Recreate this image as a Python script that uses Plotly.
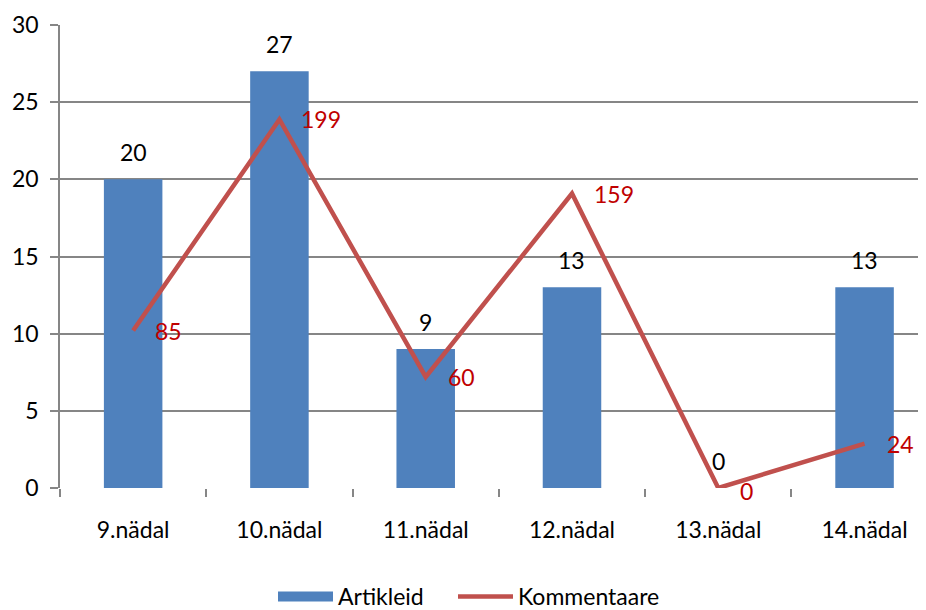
import plotly.graph_objects as go

categories = ["9.nädal", "10.nädal", "11.nädal", "12.nädal", "13.nädal", "14.nädal"]
artikleid = [20, 27, 9, 13, 0, 13]
kommentaare = [85, 199, 60, 159, 0, 24]

FONT = "Lato"
FS = 23
BLUE = "#4F81BD"
RED = "#C0504D"
LABEL_RED = "#C00000"
GRID = "#868686"

fig = go.Figure()
fig.add_trace(go.Bar(
    x=categories, y=artikleid, name="Artikleid", showlegend=False,
    marker=dict(color=BLUE, line=dict(width=0)), width=0.4,
))
# legend swatch for the bar series (wide rectangle like the original)
fig.add_trace(go.Scatter(
    x=[None], y=[None], name="Artikleid", mode="lines",
    line=dict(color=BLUE, width=15), legend="legend",
))
fig.add_trace(go.Scatter(
    x=categories, y=kommentaare, name="Kommentaare", yaxis="y2",
    mode="lines", line=dict(color=RED, width=4.5), legend="legend2",
))

annotations = []
for c, v in zip(categories, artikleid):
    annotations.append(dict(x=c, y=v, xref="x", yref="y", text=str(v),
                            showarrow=False, yanchor="bottom", yshift=11,
                            font=dict(family=FONT, size=FS, color="black")))
for c, v in zip(categories, kommentaare):
    annotations.append(dict(x=c, y=v, xref="x", yref="y2", text=str(v),
                            showarrow=False, xanchor="left", xshift=20,
                            yshift=-3 if v == 0 else 0,
                            font=dict(family=FONT, size=FS, color=LABEL_RED)))

legend_common = dict(orientation="h", xref="container", yref="container",
                     y=0.0, xanchor="left", yanchor="bottom",
                     font=dict(family=FONT, size=FS), itemwidth=55,
                     bgcolor="rgba(0,0,0,0)")

fig.update_layout(
    width=926, height=610,
    margin=dict(l=52, r=8, t=17, b=130),
    paper_bgcolor="white", plot_bgcolor="white",
    font=dict(family=FONT, size=FS, color="black"),
    xaxis=dict(range=[-0.5, 5.42], showgrid=False, ticks="outside",
               tickson="boundaries", ticklen=8, tickcolor=GRID, tickwidth=1.5,
               showline=False, zeroline=False, ticklabelstandoff=26,
               automargin=False, tickfont=dict(family=FONT, size=FS)),
    yaxis=dict(range=[0, 30], dtick=5, showgrid=True, gridcolor=GRID, gridwidth=1.5,
               ticks="outside", ticklen=8, tickcolor=GRID, tickwidth=1.5,
               showline=True, linecolor=GRID, linewidth=1.5, zeroline=False,
               ticklabelstandoff=7, automargin=False,
               tickfont=dict(family=FONT, size=FS)),
    yaxis2=dict(range=[0, 250], overlaying="y", side="right", visible=False,
                showgrid=False, automargin=False),
    showlegend=True,
    legend=dict(x=265 / 926, **legend_common),
    legend2=dict(x=445 / 926, **legend_common),
    annotations=annotations,
)

fig.write_html("out.html")
